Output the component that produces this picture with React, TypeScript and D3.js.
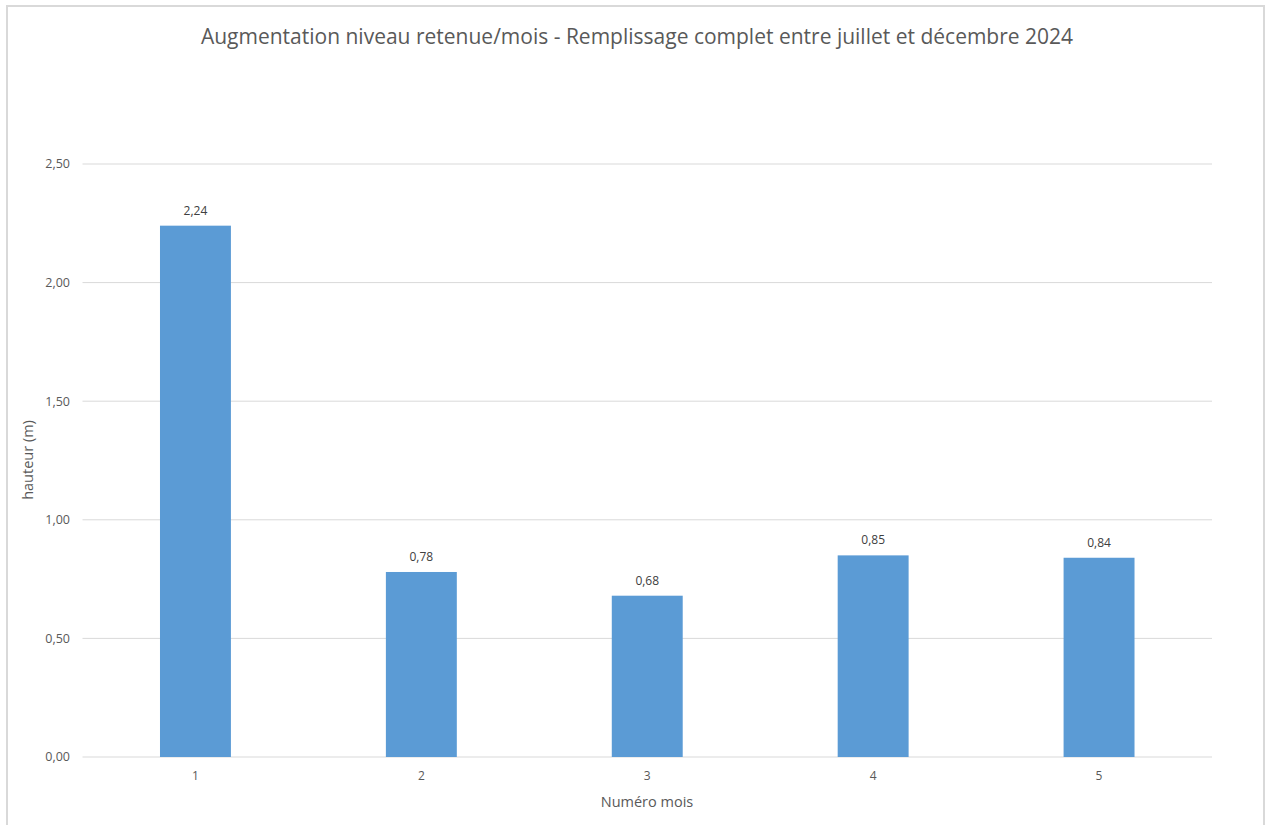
import React from "react";
import * as d3 from "d3";

const categories = ["1", "2", "3", "4", "5"];
const values = [2.24, 0.78, 0.68, 0.85, 0.84];
const yTicks = [0, 0.5, 1.0, 1.5, 2.0, 2.5];
const title = "Augmentation niveau retenue/mois - Remplissage complet entre juillet et décembre 2024";
const xTitle = "Numéro mois";
const yTitle = "hauteur (m)";

const W = 1265;
const H = 825;
const FONT = "'Open Sans', Lato, sans-serif";
const TEXT = "#595959";

export default function App() {
  const left = 82.5;
  const right = 1212;
  const top = 164;
  const bottom = 757;
  const x = d3.scaleBand<string>().domain(categories).range([left, right]).paddingInner(0.686).paddingOuter(0.343);
  const y = d3.scaleLinear().domain([0, 2.5]).range([bottom, top]);
  const fmt = (v: number) => d3.format(".2f")(v).replace(".", ",");

  return (
    <svg width={W} height={H} style={{ position: "absolute", left: 0, top: 0, background: "#fff" }} fontFamily={FONT}>
      <rect x={7} y={6} width={1257} height={830} fill="#fff" stroke="#d9d9d9" strokeWidth={2} />
      <text x={637} y={44} textAnchor="middle" fontSize={21} fill={TEXT}>{title}</text>
      {yTicks.map((t) => (
        <g key={t}>
          <line x1={left} x2={right} y1={y(t)} y2={y(t)} stroke="#d9d9d9" strokeWidth={1} />
          <text x={70} y={y(t)} dy="0.35em" textAnchor="end" fontSize={12.5} fill={TEXT}>{fmt(t)}</text>
        </g>
      ))}
      {categories.map((c, i) => (
        <g key={c}>
          <rect x={x(c)} y={y(values[i])} width={x.bandwidth()} height={bottom - y(values[i])} fill="#5b9bd5" />
          <text x={(x(c) as number) + x.bandwidth() / 2} y={y(values[i]) - 11} textAnchor="middle" fontSize={12} fill="#404040">{fmt(values[i])}</text>
          <text x={(x(c) as number) + x.bandwidth() / 2} y={bottom + 23} textAnchor="middle" fontSize={12} fill={TEXT}>{c}</text>
        </g>
      ))}
      <text x={647} y={807} textAnchor="middle" fontSize={14.5} fill={TEXT}>{xTitle}</text>
      <text transform={`translate(33,460) rotate(-90)`} textAnchor="middle" fontSize={14.5} fill={TEXT}>{yTitle}</text>
    </svg>
  );
}
